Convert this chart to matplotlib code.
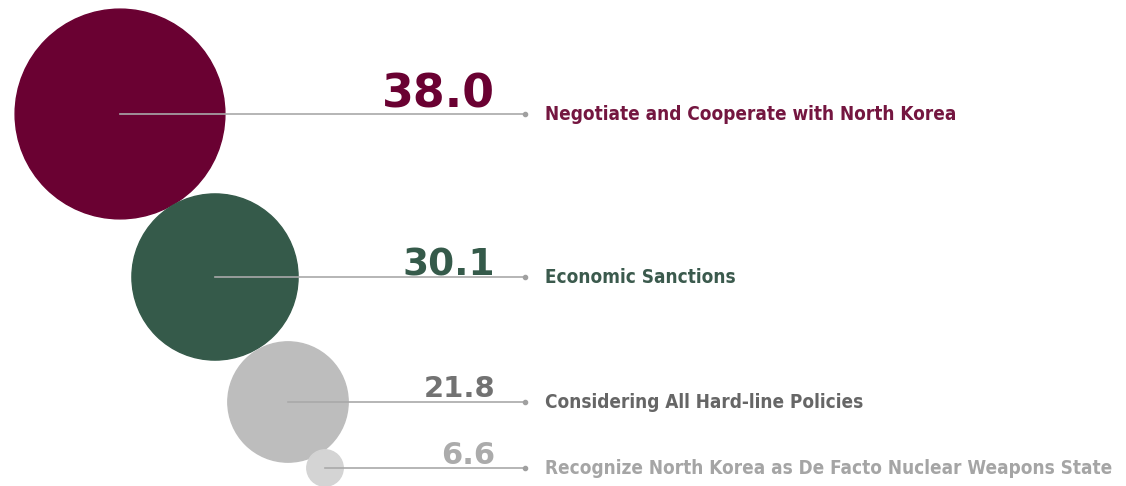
import numpy as np
import matplotlib.pyplot as plt
from matplotlib.patches import Circle
from matplotlib import font_manager

# Data
labels = ['Negotiate and Cooperate with North Korea', 'Economic Sanctions',
          'Considering All Hard-line Policies',
          'Recognize North Korea as De Facto Nuclear Weapons State']
values = [38.0, 30.1, 21.8, 6.6]

# Layout (pixel space)
centers_x = [120, 215, 288, 325]
rows_y = [114, 277, 402, 468]
num_offsets = [7, 2, 5, 4]
px_per_unit = 2.76
circle_colors = ['#6a0132', '#355a4a', '#bdbdbd', '#d4d4d4']
num_colors = ['#6a0132', '#355a4a', '#727272', '#ababab']
label_colors = ['#741640', '#3b5a4d', '#666666', '#a5a5a5']
num_sizes = [33, 27, 21, 22]

# look for a condensed bold face for the labels
label_font = None
for f in font_manager.fontManager.ttflist:
    if f.stretch == 'condensed' and f.weight in ('bold', 700) and 'Oblique' not in f.fname \
            and 'Italic' not in f.fname:
        label_font = font_manager.FontProperties(fname=f.fname, size=13.6)
        break
if label_font is None:
    label_font = font_manager.FontProperties(family='Liberation Sans', weight='bold', size=12.5)

fig = plt.figure(figsize=(11.26, 4.86), dpi=100)
ax = fig.add_axes([0, 0, 1, 1])
ax.set_xlim(0, 1126)
ax.set_ylim(486, 0)
ax.axis('off')

dot_x = 525
for i, v in enumerate(values):
    ax.add_patch(Circle((centers_x[i], rows_y[i]), v * px_per_unit,
                        color=circle_colors[i], zorder=1))
    ax.plot([centers_x[i], dot_x], [rows_y[i], rows_y[i]], color='#a9a9a9',
            lw=1.2, zorder=2)
    ax.plot(dot_x, rows_y[i], 'o', color='#a0a0a0', ms=3, zorder=3)
    ax.text(495, rows_y[i] - num_offsets[i], f'{v:.1f}', ha='right', va='baseline',
            fontsize=num_sizes[i], fontweight='bold', color=num_colors[i],
            family='DejaVu Sans', zorder=4)
    ax.text(545, rows_y[i], labels[i], ha='left', va='center',
            fontproperties=label_font, color=label_colors[i], zorder=4)

fig.savefig('out.png', dpi=100, facecolor='white')
